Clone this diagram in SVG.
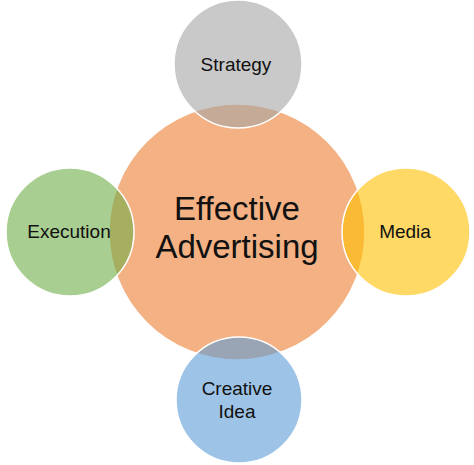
<svg xmlns="http://www.w3.org/2000/svg" width="474" height="465" viewBox="0 0 474 465">
<style>
circle{stroke:#ffffff;stroke-width:1.5}
.core{fill:#F4B183}
.sat{fill-opacity:0.6}
text{font-family:"Liberation Sans",Arial,sans-serif;fill:#111111;text-anchor:middle}
.small{font-size:19px}
.big{font-size:33px}
</style>
<rect width="474" height="465" fill="#ffffff"/>
<g id="center">
<circle class="core" cx="237" cy="232" r="128"/>
<text class="big" x="237" y="220">Effective</text>
<text class="big" x="237" y="258">Advertising</text>
</g>
<g id="connectors"></g>
<g id="strategy">
<circle class="sat" fill="#A5A5A5" cx="238" cy="64" r="64"/>
<text class="small" x="236" y="71">Strategy</text>
</g>
<g id="execution">
<circle class="sat" fill="#70AD47" cx="70" cy="232" r="64"/>
<text class="small" x="69" y="238">Execution</text>
</g>
<g id="media">
<circle class="sat" fill="#FFC000" cx="406" cy="232" r="64"/>
<text class="small" x="405" y="238">Media</text>
</g>
<g id="creative-idea">
<circle class="sat" fill="#5B9BD5" cx="239" cy="400" r="63"/>
<text class="small" x="237" y="395">Creative</text>
<text class="small" x="237" y="418">Idea</text>
</g>
</svg>
